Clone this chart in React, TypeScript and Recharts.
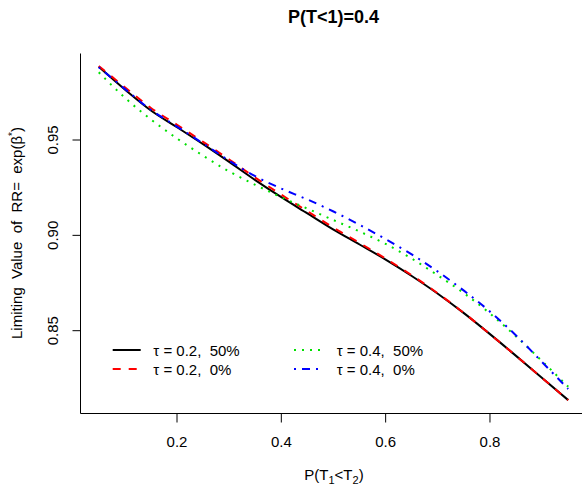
import React from "react";
import { LineChart, Line, XAxis, YAxis } from "recharts";

// P(T1<T2) grid
const pT1T2 = [0.05, 0.1, 0.15, 0.2, 0.25, 0.3, 0.35, 0.4, 0.45, 0.5, 0.55, 0.6, 0.65, 0.7, 0.75, 0.8, 0.85, 0.9, 0.95];

// limiting value of RR
const tau02_50 = [0.9884, 0.9765, 0.9655, 0.9567, 0.9478, 0.9385, 0.929, 0.92, 0.9115, 0.903, 0.8952, 0.8873, 0.8787, 0.8694, 0.8592, 0.8482, 0.8368, 0.8252, 0.8136];
const tau02_0 = [0.9888, 0.9777, 0.9668, 0.958, 0.949, 0.9398, 0.9303, 0.9213, 0.9127, 0.904, 0.896, 0.8878, 0.8791, 0.8696, 0.8593, 0.8482, 0.8368, 0.8252, 0.8136];
const tau04_50 = [0.9855, 0.9722, 0.9608, 0.9508, 0.9418, 0.9335, 0.9265, 0.92, 0.914, 0.908, 0.902, 0.8955, 0.8878, 0.879, 0.8697, 0.859, 0.847, 0.834, 0.8206];
const tau04_0 = [0.9882, 0.9768, 0.9658, 0.957, 0.9482, 0.9392, 0.931, 0.9245, 0.9188, 0.9125, 0.9055, 0.898, 0.89, 0.881, 0.871, 0.86, 0.8475, 0.8335, 0.8194];

const xTicks = [0.2, 0.4, 0.6, 0.8];
const yTicks = [0.85, 0.9, 0.95];

const FONT = "'Liberation Sans', Arial, Helvetica, sans-serif";

const series = [
  { key: "t02_50", tau: "0.2", cens: "50%", color: "#000000", dash: undefined as string | undefined },
  { key: "t02_0", tau: "0.2", cens: "0%", color: "#FF0000", dash: "8 8" },
  { key: "t04_50", tau: "0.4", cens: "50%", color: "#00E000", dash: "2 6" },
  { key: "t04_0", tau: "0.4", cens: "0%", color: "#0000FF", dash: "2 6 8 6" },
];

const data = pT1T2.map((p, i) => ({
  p,
  t02_50: tau02_50[i],
  t02_0: tau02_0[i],
  t04_50: tau04_50[i],
  t04_0: tau04_0[i],
}));

const XTick = (props: any) => (
  <text x={props.x} y={props.y} dy="0.71em" textAnchor="middle" fontSize={15} fontFamily={FONT} fill="#000">
    {props.payload.value.toFixed(1)}
  </text>
);

const YTick = (props: any) => (
  <text
    x={props.x}
    y={props.y}
    textAnchor="middle"
    fontSize={15}
    fontFamily={FONT}
    fill="#000"
    transform={`rotate(-90, ${props.x}, ${props.y})`}
  >
    {props.payload.value.toFixed(2)}
  </text>
);

// legend layout: two columns, two rows
const legendLineX = [112.7, 294];
const legendTextX = [153.3, 336.7];
const legendRows = [350, 369];

export default function App() {
  return (
    <div style={{ position: "absolute", left: 0, top: 0, width: 582, height: 487, overflow: "hidden", background: "#fff" }}>
      <LineChart width={600} height={487} data={data} margin={{ top: 53.5, right: 13, bottom: 0, left: 0 }}>
        <XAxis
          dataKey="p"
          type="number"
          domain={[0.015, 0.986]}
          ticks={xTicks}
          allowDataOverflow
          height={73.5}
          tickSize={9}
          tickMargin={14}
          tick={<XTick />}
          axisLine={{ stroke: "#000", strokeWidth: 1 }}
          tickLine={{ stroke: "#000", strokeWidth: 1 }}
        />
        <XAxis
          xAxisId="top"
          orientation="top"
          dataKey="p"
          type="number"
          domain={[0.015, 0.986]}
          height={0}
          tick={false}
          tickLine={false}
          axisLine={{ stroke: "#000", strokeWidth: 1 }}
        />
        <YAxis
          type="number"
          domain={[0.80658, 0.99536]}
          ticks={yTicks}
          allowDataOverflow
          width={80.5}
          tickSize={8}
          tickMargin={14.5}
          tick={<YTick />}
          axisLine={{ stroke: "#000", strokeWidth: 1 }}
          tickLine={{ stroke: "#000", strokeWidth: 1 }}
        />
        {series.map((s) => (
          <Line
            key={s.key}
            dataKey={s.key}
            type="monotone"
            stroke={s.color}
            strokeWidth={2}
            strokeDasharray={s.dash}
            dot={false}
            activeDot={false}
            isAnimationActive={false}
          />
        ))}
      </LineChart>
      <svg
        width={582}
        height={487}
        style={{ position: "absolute", left: 0, top: 0, pointerEvents: "none" }}
        fontFamily={FONT}
      >
        <text x={333.5} y={23} textAnchor="middle" fontSize={18} fontWeight="bold">
          P(T&lt;1)=0.4
        </text>
        <text x={334} y={480} textAnchor="middle" fontSize={15}>
          P(T<tspan dy={3.5} fontSize={11}>1</tspan>
          <tspan dy={-3.5}>&lt;T</tspan>
          <tspan dy={3.5} fontSize={11}>2</tspan>
          <tspan dy={-3.5}>)</tspan>
        </text>
        <text x={22} y={233} textAnchor="middle" fontSize={15} transform="rotate(-90, 22, 233)" xmlSpace="preserve">
          Limiting  Value  of  RR=  exp(β<tspan dy={-6} fontSize={10}>*</tspan>
          <tspan dy={6}>)</tspan>
        </text>
        {series.map((s, i) => {
          const col = Math.floor(i / 2);
          const row = i % 2;
          const x0 = legendLineX[col];
          const y0 = legendRows[row];
          return (
            <g key={s.key}>
              <line x1={x0} x2={x0 + 28} y1={y0} y2={y0} stroke={s.color} strokeWidth={2} strokeDasharray={s.dash} />
              <text x={legendTextX[col]} y={y0 + 5.5} fontSize={15} xmlSpace="preserve">
                {`τ = ${s.tau},  ${s.cens}`}
              </text>
            </g>
          );
        })}
      </svg>
    </div>
  );
}
